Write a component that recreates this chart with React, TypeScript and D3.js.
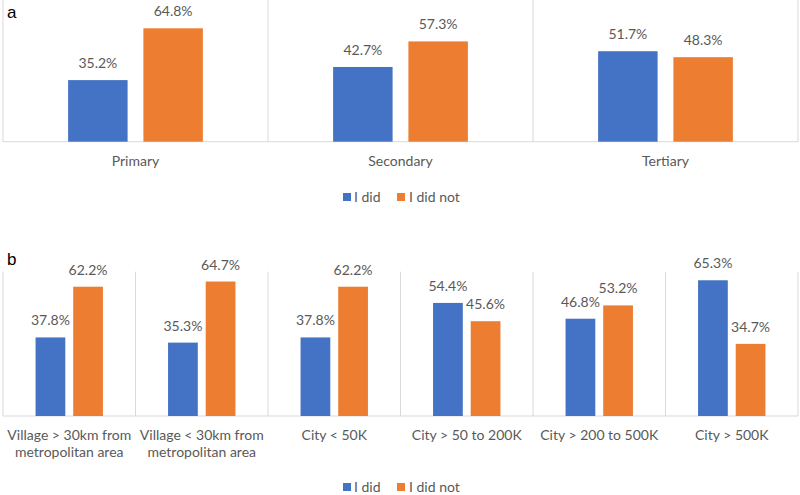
import React from 'react';
import * as d3 from 'd3';

// panel a: school level
const categoriesA = ['Primary', 'Secondary', 'Tertiary'];
const didA = [35.2, 42.7, 51.7];
const didNotA = [64.8, 57.3, 48.3];

// panel b: place of residence (label lines)
const categoriesB = [
  ['Village > 30km from', 'metropolitan area'],
  ['Village < 30km from', 'metropolitan area'],
  ['City < 50K'],
  ['City > 50 to 200K'],
  ['City > 200 to 500K'],
  ['City > 500K'],
];
const didB = [37.8, 35.3, 37.8, 54.4, 46.8, 65.3];
const didNotB = [62.2, 64.7, 62.2, 45.6, 53.2, 34.7];

const seriesNames = ['I did', 'I did not'];
const colors = ['#4472C4', '#ED7D31'];

const width = 800;
const height = 495;
const font = 'Lato, "Open Sans", sans-serif';
const textColor = '#595959';
const gridColor = '#D9D9D9';

const Panel = ({ letter, cats, did, didNot, top, bottom, lineTop, legendY, labelY, letterY }) => {
  const keys = cats.map((c, i) => String(i));
  const x = d3.scaleBand().domain(keys).range([3, 798]).padding(0);
  const inner = d3.scaleBand().domain(['0', '1']).range([0, x.bandwidth()])
    .paddingInner(0.21).paddingOuter(0.865);
  const y = d3.scaleLinear().domain([0, 70]).range([bottom, top]);
  const vals = [did, didNot];

  return (
    <g>
      <text x={7} y={letterY} fontFamily="Arial, Liberation Sans, sans-serif" fontSize={17} fill="#000">{letter}</text>
      {/* separators */}
      {keys.concat(['end']).map((k, i) => {
        const xx = k === 'end' ? 798 : x(k);
        return <line key={i} x1={xx} x2={xx} y1={lineTop} y2={bottom} stroke={gridColor} strokeWidth={1} />;
      })}
      <line x1={3} x2={798} y1={bottom} y2={bottom} stroke={gridColor} strokeWidth={1} />
      {keys.map((k, i) => (
        <g key={k} transform={`translate(${x(k)},0)`}>
          {vals.map((s, j) => {
            const bx = inner(String(j));
            const v = s[i];
            return (
              <g key={j}>
                <rect x={bx} y={y(v)} width={inner.bandwidth()} height={y(0) - y(v)} fill={colors[j]} />
                <text x={bx + inner.bandwidth() / 2} y={y(v) - 12} textAnchor="middle"
                  fontFamily={font} fontSize={14} fill={textColor}>{v.toFixed(1)}%</text>
              </g>
            );
          })}
          {(Array.isArray(cats[i]) ? cats[i] : [cats[i]]).map((line, li) => (
            <text key={li} x={x.bandwidth() / 2} y={labelY + li * 17} textAnchor="middle"
              fontFamily={font} fontSize={14} fill={textColor}>{line}</text>
          ))}
        </g>
      ))}
      {/* legend */}
      <g fontFamily={font} fontSize={14} fill={textColor}>
        <rect x={343} y={legendY - 4} width={8} height={8} fill={colors[0]} />
        <text x={354} y={legendY + 5}>{seriesNames[0]}</text>
        <rect x={397} y={legendY - 4} width={8} height={8} fill={colors[1]} />
        <text x={409} y={legendY + 5}>{seriesNames[1]}</text>
      </g>
    </g>
  );
};

export default function App() {
  return (
    <svg width={width} height={height} style={{ position: 'absolute', left: 0, top: 0, background: '#fff' }}>
      <Panel letter="a" cats={categoriesA} did={didA} didNot={didNotA}
        top={19.2} bottom={141.7} lineTop={0} labelY={166} legendY={197} letterY={18} />
      <Panel letter="b" cats={categoriesB} did={didB} didNot={didNotB}
        top={270.5} bottom={416} lineTop={271.7} labelY={440} legendY={487} letterY={265} />
    </svg>
  );
}
